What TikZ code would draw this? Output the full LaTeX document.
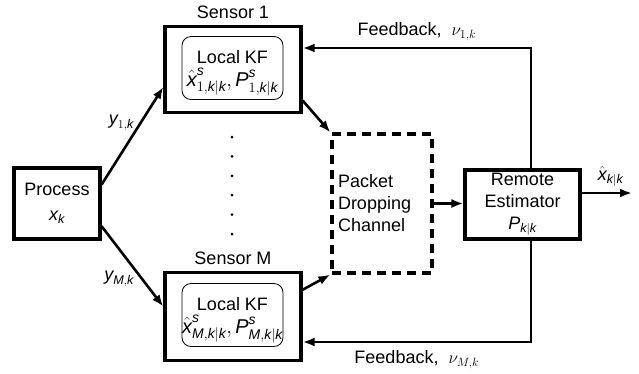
\documentclass[tikz,border=0pt]{standalone}
\usepackage{tikz}
\usepackage{amsmath}
\usepackage{fontspec}
\setmainfont{Liberation Sans}
\usetikzlibrary{arrows.meta, calc}

\newcommand{\vi}[1]{\text{\itshape #1}}

\begin{document}
\begin{tikzpicture}[x=1pt, y=-1pt, >={Latex[length=12pt,width=9pt]},
  font=\fontsize{18}{22}\selectfont,
  blk/.style={draw, line width=3.2pt, inner sep=0pt},
  kfbox/.style={draw, line width=0.8pt, rounded corners=9pt, inner sep=0pt, minimum width=101pt, minimum height=63pt},
  kftext/.style={align=center, inner sep=0pt, anchor=south},
  link/.style={->, line width=2.6pt},
  fbtext/.style={font=\fontsize{18}{22}\selectfont}]

\useasboundingbox (0,0) rectangle (639,373);
%\draw[step=20pt, gray!40] (0,0) grid (639,373);

\node[blk, minimum width=86pt, minimum height=71pt, align=center] (proc) at (57,203.5) {Process\\[3pt]$\vi{x}_{\vi{k}}$};

\node[blk, minimum width=136pt, minimum height=86pt] (s1) at (233,69.5) {};
\node[kfbox] (s1kf) at (232.5,68) {};
\node[kftext] (s1txt) at ($(s1kf.south)+(0,-4)$) {Local KF\\[1pt]{\fontsize{20}{22}\selectfont$\hat{\vi{x}}^{\vi{s}}_{1,\vi{k}|\vi{k}},\vi{P}^{\vi{s}}_{1,\vi{k}|\vi{k}}$}};
\node[above=3pt] (s1lbl) at (s1.north) {Sensor 1};

\node[blk, minimum width=136pt, minimum height=88pt] (sM) at (233,316.5) {};
\node[kfbox] (sMkf) at (232.5,315) {};
\node[kftext] (sMtxt) at ($(sMkf.south)+(0,-4)$) {Local KF\\[1pt]{\fontsize{20}{22}\selectfont$\hat{\vi{x}}^{\vi{s}}_{\vi{M},\vi{k}|\vi{k}},\vi{P}^{\vi{s}}_{\vi{M},\vi{k}|\vi{k}}$}};
\node[above=3pt] (sMlbl) at (sM.north) {Sensor M};

\node[blk, dashed, dash pattern=on 9pt off 6pt, minimum width=100pt, minimum height=139pt, text width=88pt, align=left] (chan) at (382,203.5) {Packet\\Dropping\\Channel};

\node[blk, minimum width=115pt, minimum height=69pt, align=center] (est) at (522.5,204.5) {Remote\\Estimator\\$\vi{P}_{\vi{k}|\vi{k}}$};

\coordinate (xhat) at (632,193);
\coordinate (fbtop) at (531,48);
\coordinate (fbbot) at (531,342);

\foreach \i in {0,...,5}
  \fill (232,{137+19.4*\i}) circle (1.5pt);

\draw[link] (proc.23) -- (s1.194) node[midway, above left, xshift=6pt] (y1) {$\vi{y}_{1,\vi{k}}$};
\draw[link] (proc.-27) -- (sM.172) node[midway, below left, xshift=6pt] (yM) {$\vi{y}_{\vi{M},\vi{k}}$};

\draw[link] (s1.-24) -- (chan.north west);
\draw[link] (sM.21) -- (chan.south west);
\draw[link] (chan.east) -- (chan.east -| est.west);
\draw[link] (est.east |- xhat) -- (xhat) node[above left, xshift=-4pt, yshift=2pt] (xout) {$\hat{\vi{x}}_{\vi{k}|\vi{k}}$};

\draw[link] (fbtop |- est.north) -- (fbtop) -- (fbtop -| s1.east)
  node[midway, above=3pt, fbtext] (fb1) {Feedback, \ $\nu_{1,k}$};
\draw[link] (fbbot |- est.south) -- (fbbot) -- (fbbot -| sM.east)
  node[midway, below=4pt, fbtext] (fbM) {Feedback, \ $\nu_{M,k}$};

\end{tikzpicture}
\end{document}
